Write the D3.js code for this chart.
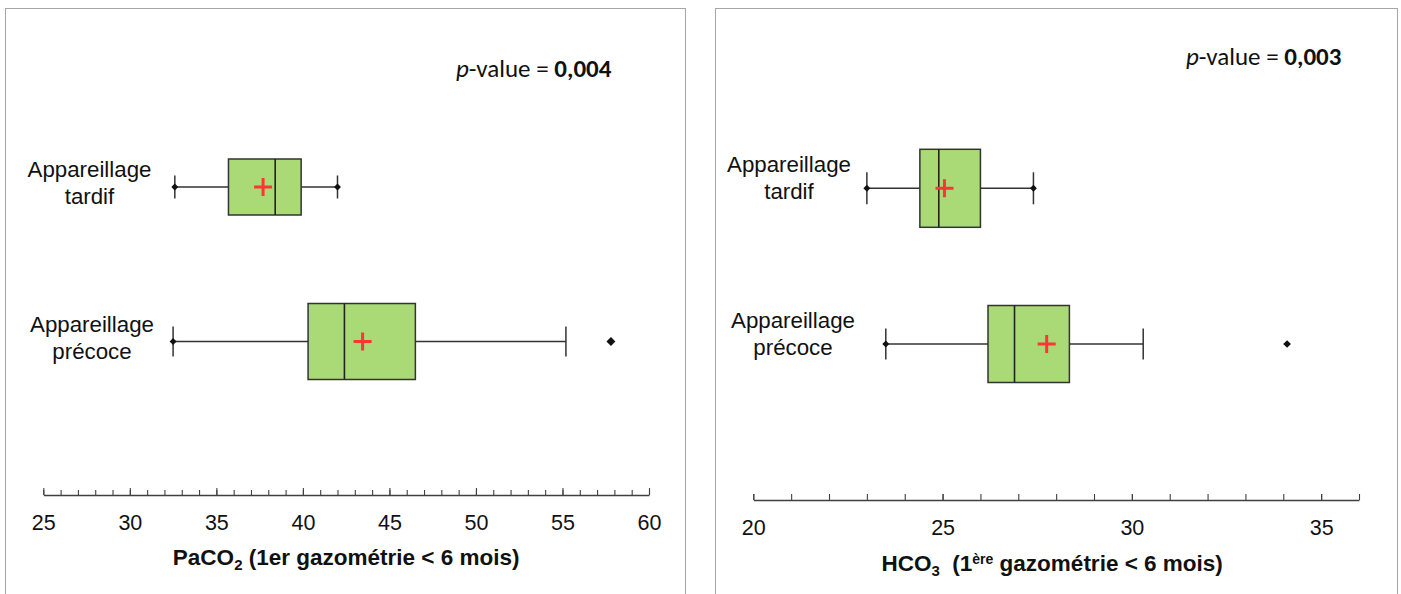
<!DOCTYPE html>
<html>
<head>
<meta charset="utf-8">
<script src="https://cdn.jsdelivr.net/npm/d3@7"></script>
<style>
  html, body { margin: 0; padding: 0; background: #fff; }
  svg { display: block; }
</style>
</head>
<body>
<svg id="chart" width="1401" height="594"></svg>
<script>
// ---------- DATA ----------
const categoryLines = [["Appareillage", "tardif"], ["Appareillage", "précoce"]];
const categories = ["tardif", "précoce"];

// PaCO2 panel
const paco2Min        = [32.6, 32.5];
const paco2WhiskerLow = [32.6, 32.5];
const paco2Q1         = [35.7, 40.3];
const paco2Median     = [38.4, 42.4];
const paco2Q3         = [39.9, 46.5];
const paco2WhiskerHigh= [42.0, 55.2];
const paco2Max        = [42.0, 57.8];
const paco2Mean       = [37.7, 43.45];
const paco2Domain     = [25, 60];
const paco2MajorTicks = [25, 30, 35, 40, 45, 50, 55, 60];
const paco2MinorTicks = d3.range(25, 61, 1);

// HCO3 panel
const hco3Min         = [23.0, 23.5];
const hco3WhiskerLow  = [23.0, 23.5];
const hco3Q1          = [24.4, 26.2];
const hco3Median      = [24.9, 26.9];
const hco3Q3          = [26.0, 28.35];
const hco3WhiskerHigh = [27.4, 30.3];
const hco3Max         = [27.4, 34.1];
const hco3Mean        = [25.05, 27.75];
const hco3Domain      = [20, 36];
const hco3MajorTicks  = [20, 25, 30, 35];
const hco3MinorTicks  = d3.range(20, 37, 1);

const pValues = ["0,004", "0,003"];

// ---------- STYLE ----------
const BOX_FILL = "#a9da76";
const BOX_STROKE = "#333333";
const MEAN_COLOR = "#ff3535";
const AXIS_COLOR = "#404040";
const FONT = "'Liberation Sans', Arial, sans-serif";
const PFONT = "Carlito, Calibri, Lato, sans-serif";

const svg = d3.select("#chart");

function drawPanel(cfg) {
  const g = svg.append("g");
  g.append("rect")
    .attr("x", cfg.frame[0] + 0.5).attr("y", cfg.frame[1] + 0.5)
    .attr("width", cfg.frame[2]).attr("height", cfg.frame[3])
    .attr("fill", "none").attr("stroke", "#a6a6a6").attr("stroke-width", 1);

  const x = d3.scaleLinear().domain(cfg.domain).range(cfg.xRange);
  const y = d3.scalePoint().domain(categories).range(cfg.yRange);

  const minorAxis = d3.axisBottom(x).tickValues(cfg.minorTicks)
    .tickSizeInner(-cfg.minorLen).tickSizeOuter(0).tickFormat("");
  const gm = g.append("g").attr("transform", `translate(0,${cfg.axisY})`).call(minorAxis);
  gm.select(".domain").attr("stroke", AXIS_COLOR).attr("stroke-width", 1.3);
  gm.selectAll(".tick line").attr("stroke", AXIS_COLOR).attr("stroke-width", 1.1);

  const majorAxis = d3.axisBottom(x).tickValues(cfg.majorTicks)
    .tickSizeInner(-cfg.majorLen).tickSizeOuter(0).tickPadding(20)
    .tickFormat(d3.format("d"));
  const ga = g.append("g").attr("transform", `translate(0,${cfg.axisY})`).call(majorAxis);
  ga.select(".domain").remove();
  ga.selectAll(".tick line").attr("stroke", AXIS_COLOR).attr("stroke-width", 1.1);
  ga.selectAll(".tick text")
    .attr("font-family", FONT).attr("font-size", 21.5).attr("fill", "#111");

  const t = g.append("text")
    .attr("x", (cfg.xRange[0] + cfg.xRange[1]) / 2 + cfg.titleDx)
    .attr("y", cfg.axisY + cfg.titleDy)
    .attr("text-anchor", "middle")
    .attr("font-family", FONT).attr("font-size", 22.5).attr("font-weight", "bold")
    .attr("fill", "#111");
  cfg.titleParts.forEach(p => {
    const ts = t.append("tspan").text(p.text);
    if (p.sub) ts.attr("font-size", 15).attr("dy", 5);
    if (p.sup) ts.attr("font-size", 14).attr("dy", -7);
    if (p.reset) ts.attr("dy", p.reset);
  });

  const pv = g.append("text")
    .attr("x", cfg.pvX).attr("y", cfg.pvY)
    .attr("font-family", PFONT).attr("font-size", 25).attr("fill", "#111");
  pv.append("tspan").attr("font-style", "italic").text("p");
  pv.append("tspan").text("-value = ");
  pv.append("tspan").attr("font-weight", "bold").text(cfg.pValue);

  categories.forEach((c, i) => {
    const tx = g.append("text")
      .attr("x", cfg.labelX[i])
      .attr("y", y(c) + cfg.labelDy)
      .attr("text-anchor", "middle")
      .attr("font-family", FONT).attr("font-size", 22.3).attr("fill", "#111");
    categoryLines[i].forEach((line, k) => {
      tx.append("tspan").attr("x", cfg.labelX[i]).attr("dy", k === 0 ? 0 : 27).text(line);
    });
  });

  categories.forEach((c, i) => {
    const cy = y(c);
    const h = cfg.boxH[i];
    const cap = cfg.capH[i];
    const bg = g.append("g");
    bg.append("line")
      .attr("x1", x(cfg.wLow[i])).attr("x2", x(cfg.q1[i]))
      .attr("y1", cy).attr("y2", cy)
      .attr("stroke", BOX_STROKE).attr("stroke-width", 1.5);
    bg.append("line")
      .attr("x1", x(cfg.q3[i])).attr("x2", x(cfg.wHigh[i]))
      .attr("y1", cy).attr("y2", cy)
      .attr("stroke", BOX_STROKE).attr("stroke-width", 1.5);
    [cfg.wLow[i], cfg.wHigh[i]].forEach(v => {
      bg.append("line")
        .attr("x1", x(v)).attr("x2", x(v))
        .attr("y1", cy - cap / 2).attr("y2", cy + cap / 2)
        .attr("stroke", BOX_STROKE).attr("stroke-width", 1.5);
    });
    bg.append("rect")
      .attr("x", x(cfg.q1[i])).attr("y", cy - h / 2)
      .attr("width", x(cfg.q3[i]) - x(cfg.q1[i])).attr("height", h)
      .attr("fill", BOX_FILL).attr("stroke", BOX_STROKE).attr("stroke-width", 1.5);
    bg.append("line")
      .attr("x1", x(cfg.med[i])).attr("x2", x(cfg.med[i]))
      .attr("y1", cy - h / 2).attr("y2", cy + h / 2)
      .attr("stroke", "#222").attr("stroke-width", 1.6);
    [cfg.min[i], cfg.max[i]].forEach((v, k) => {
      const isOutlier = k === 1 && cfg.max[i] !== cfg.wHigh[i];
      bg.append("path")
        .attr("d", d3.symbol().type(d3.symbolSquare).size(isOutlier ? cfg.outlierSize : 24)())
        .attr("transform", `translate(${x(v)},${cy}) rotate(45)`)
        .attr("fill", "#111");
    });
    const mx = x(cfg.mean[i]);
    bg.append("path")
      .attr("d", `M${mx - 9},${cy}H${mx + 9}M${mx},${cy - 9}V${cy + 9}`)
      .attr("stroke", MEAN_COLOR).attr("stroke-width", 3).attr("fill", "none");
  });
}

drawPanel({
  frame: [5, 8, 680, 600],
  domain: paco2Domain, xRange: [43.3, 649], yRange: [187, 341.5],
  axisY: 495, minorTicks: paco2MinorTicks, majorTicks: paco2MajorTicks,
  minorLen: 5, majorLen: 7,
  titleParts: [{ text: "PaCO" }, { text: "2", sub: true }, { text: " (1er gazométrie < 6 mois)", reset: -5 }],
  titleDx: 0, titleDy: 70,
  pvX: 456, pvY: 77, pValue: pValues[0],
  labelX: [89.5, 92], labelDy: -10,
  boxH: [56, 76], capH: [23, 30], outlierSize: 40,
  min: paco2Min, wLow: paco2WhiskerLow, q1: paco2Q1, med: paco2Median, q3: paco2Q3,
  wHigh: paco2WhiskerHigh, max: paco2Max, mean: paco2Mean
});

drawPanel({
  frame: [715, 8, 682, 600],
  domain: hco3Domain, xRange: [753.3, 1359], yRange: [188.3, 344],
  axisY: 500, minorTicks: hco3MinorTicks, majorTicks: hco3MajorTicks,
  minorLen: 6, majorLen: 6,
  titleParts: [{ text: "HCO" }, { text: "3", sub: true }, { text: "\u00A0 (1", reset: -5 }, { text: "ère", sup: true }, { text: " gazométrie < 6 mois)", reset: 7 }],
  titleDx: -4, titleDy: 71,
  pvX: 1186, pvY: 65, pValue: pValues[1],
  labelX: [789, 793], labelDy: -16,
  boxH: [78, 77], capH: [32, 31], outlierSize: 30,
  min: hco3Min, wLow: hco3WhiskerLow, q1: hco3Q1, med: hco3Median, q3: hco3Q3,
  wHigh: hco3WhiskerHigh, max: hco3Max, mean: hco3Mean
});
</script>
</body>
</html>
